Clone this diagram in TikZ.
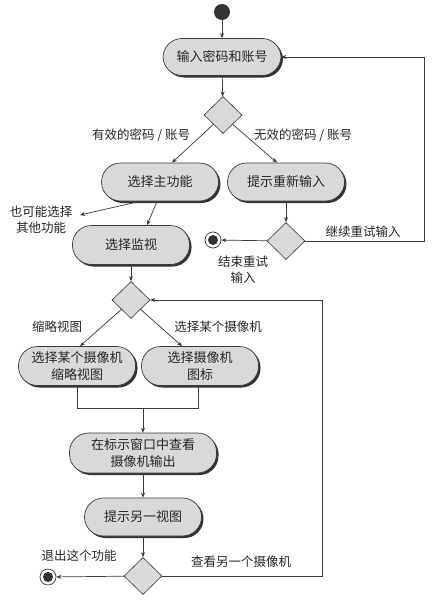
\documentclass[tikz,border=0pt]{standalone}
\usepackage{fontspec}
\newfontfamily\cjk{Noto Sans CJK SC}
\usetikzlibrary{shapes.geometric,shadows,arrows.meta}
\definecolor{nodefill}{HTML}{D9D9D9}
\definecolor{linec}{HTML}{3A3A3A}
\tikzset{
  act/.style={draw=linec, line width=0.7pt, fill=nodefill, rounded corners=19pt,
    minimum width=117pt, minimum height=38pt, inner sep=2pt, align=center,
    font=\cjk\fontsize{13}{17}\selectfont, text=black!85,
    general shadow={fill=black!80, shadow xshift=2pt, shadow yshift=-2pt}},
  dec/.style={draw=linec, line width=0.6pt, fill=nodefill, diamond, minimum width=38pt, minimum height=37pt, inner sep=0pt},
  lbl/.style={font=\cjk\fontsize{12.5}{16}\selectfont, text=black!85, align=center, inner sep=1pt},
  flow/.style={draw=linec, line width=0.7pt, -{Stealth[length=5pt,width=4pt]}},
  plain/.style={draw=linec, line width=0.7pt},
  startc/.style={circle, fill=black!80, minimum size=16pt, inner sep=0pt},
  endc/.style={circle, draw=linec, line width=0.7pt, fill=white, minimum size=16pt, inner sep=0pt,
    path picture={\fill[black!80] (path picture bounding box.center) circle (5pt);}}
}
\begin{document}
\begin{tikzpicture}[x=1pt,y=-1pt]
\useasboundingbox[fill=white] (0,0) rectangle (439,602);
% nodes
\node[startc] (s) at (222,12) {};
\node[act, minimum width=118pt, minimum height=37pt] (n1) at (222,57) {输入密码和账号};
\node[dec] (d1) at (223,115) {};
\node[act] (n2) at (160,182) {选择主功能};
\node[act] (n3) at (286,182) {提示重新输入};
\node[dec] (d2) at (286,241) {};
\node[endc] (e1) at (213,240) {};
\node[act, minimum height=39pt] (n4) at (131,245) {选择监视};
\node[dec] (d3) at (131,300) {};
\node[act, minimum height=39pt] (n5) at (77,366) {选择某个摄像机\\缩略视图};
\node[act, minimum height=39pt] (n6) at (200,366) {选择摄像机\\图标};
\node[act, minimum width=147pt, minimum height=40pt] (n7) at (143,453) {在标示窗口中查看\\摄像机输出};
\node[act] (n8) at (143,517) {提示另一视图};
\node[dec] (d4) at (143,576) {};
\node[endc] (e2) at (48,577) {};
% labels
\node[lbl] (l1) at (141,135) {有效的密码 / 账号};
\node[lbl] (l2) at (303,135) {无效的密码 / 账号};
\node[lbl] (l3) at (363,232) {继续重试输入};
\node[lbl] (l4) at (243,270) {结束重试\\输入};
\node[lbl] (l5) at (41,220) {也可能选择\\其他功能};
\node[lbl] (l6) at (57,327) {缩略视图};
\node[lbl] (l7) at (218,327) {选择某个摄像机};
\node[lbl] (l8) at (79,556) {退出这个功能};
\node[lbl] (l9) at (241,562) {查看另一个摄像机};
% coordinates
\coordinate (r1) at (424,241);
\coordinate (r2) at (322,576);
\coordinate (nt) at (80,215);
\coordinate (j1) at (77,408);
\coordinate (j2) at (198,408);
\coordinate (jm) at (143,408);
% edges
\draw[flow] (s) -- (n1);
\draw[flow] (n1) -- (d1);
\draw[flow] (d1.south west) -- ([xshift=12pt]n2.north);
\draw[flow] (d1.south east) -- ([xshift=-9pt]n3.north);
\draw[flow] (n3) -- (d2);
\draw[flow] (d2) -- (e1);
\draw[flow] (d2.east) -- (r1) |- (n1.east);
\draw[flow] ([xshift=-20pt]n2.south) -- (nt);
\draw[flow] ([xshift=-3pt]n2.south) -- ([xshift=16pt]n4.north);
\draw[flow] (n4) -- (d3);
\draw[flow] (d3.south west) -- ([xshift=3pt]n5.north);
\draw[flow] (d3.south east) -- ([xshift=-18pt]n6.north);
\draw[plain] (n5.south) -- (j1) -- (j2) -- ([xshift=-2pt]n6.south);
\draw[flow] (jm) -- (n7);
\draw[flow] (n7) -- (n8);
\draw[flow] (n8) -- (d4);
\draw[flow] (d4) -- (e2);
\draw[flow] (d4.east) -- (r2) |- (d3.east);
\end{tikzpicture}
\end{document}
